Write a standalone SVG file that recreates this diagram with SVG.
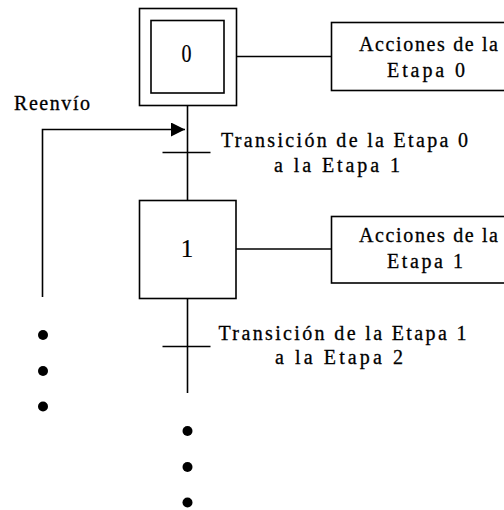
<svg xmlns="http://www.w3.org/2000/svg" width="504" height="510" viewBox="0 0 504 510">
<style>
.box{fill:#fff;stroke:#000;stroke-width:1.6}
.ln{fill:none;stroke:#000;stroke-width:1.6}
.t{font-family:"Liberation Serif","DejaVu Serif",serif;font-size:20px;fill:#000;stroke:#000;stroke-width:0.3}
.d{font-family:"Liberation Serif","DejaVu Serif",serif;font-size:25px;fill:#000;stroke:#000;stroke-width:0.2;text-anchor:middle}
.dot{fill:#000}
</style>
<defs>
<marker id="ah" viewBox="0 0 10 10" refX="10" refY="5" markerWidth="16" markerHeight="14" markerUnits="userSpaceOnUse" orient="auto">
<path d="M0,0 L10,5 L0,10 Z" fill="#000"/>
</marker>
</defs>
<rect width="504" height="510" fill="#fff"/>
<g id="connectors">
<line class="ln" x1="187.5" y1="105" x2="187.5" y2="201"/>
<line class="ln" x1="162.5" y1="152.5" x2="210.5" y2="152.5"/>
<line class="ln" x1="236.5" y1="56.5" x2="332" y2="56.5"/>
<line class="ln" x1="236" y1="249" x2="332" y2="249"/>
<line class="ln" x1="187.5" y1="298.5" x2="187.5" y2="393"/>
<line class="ln" x1="162.5" y1="346.5" x2="210.5" y2="346.5"/>
<path class="ln" d="M42.5,297 L42.5,129.5 L185,129.5" marker-end="url(#ah)"/>
</g>
<g id="step0">
<rect class="box" x="139.5" y="8.5" width="97" height="97"/>
<rect class="box" x="151" y="20.5" width="73" height="72.5"/>
<text class="d" x="186.5" y="62" transform="translate(186.5 0) scale(0.8 1) translate(-186.5 0)">0</text>
</g>
<g id="action0">
<rect class="box" x="331.5" y="22.5" width="180" height="68"/>
<text class="t" x="359" y="50.5" textLength="139" lengthAdjust="spacing">Acciones de la</text>
<text class="t" x="387" y="77" textLength="78" lengthAdjust="spacing">Etapa 0</text>
</g>
<g id="step1">
<rect class="box" x="139.5" y="200.5" width="96.5" height="98"/>
<text class="d" x="187" y="257">1</text>
</g>
<g id="action1">
<rect class="box" x="331.5" y="216.5" width="180" height="66.5"/>
<text class="t" x="359" y="241.5" textLength="139" lengthAdjust="spacing">Acciones de la</text>
<text class="t" x="387" y="268" textLength="76" lengthAdjust="spacing">Etapa 1</text>
</g>
<g id="transition0-label">
<text class="t" x="221" y="146.5" textLength="247" lengthAdjust="spacing">Transición de la Etapa 0</text>
<text class="t" x="274" y="171.5" textLength="126" lengthAdjust="spacing">a la Etapa 1</text>
</g>
<g id="transition1-label">
<text class="t" x="218.5" y="339.5" textLength="248" lengthAdjust="spacing">Transición de la Etapa 1</text>
<text class="t" x="275" y="364" textLength="128" lengthAdjust="spacing">a la Etapa 2</text>
</g>
<g id="reenvio-label">
<text class="t" x="14" y="110" textLength="76" lengthAdjust="spacing">Reenvío</text>
</g>
<g id="dots">
<circle class="dot" cx="43" cy="335" r="5"/>
<circle class="dot" cx="43" cy="371" r="5"/>
<circle class="dot" cx="43" cy="406.5" r="5"/>
<circle class="dot" cx="187.5" cy="431" r="5"/>
<circle class="dot" cx="187.5" cy="467" r="5"/>
<circle class="dot" cx="187.5" cy="502.5" r="5"/>
</g>
</svg>
